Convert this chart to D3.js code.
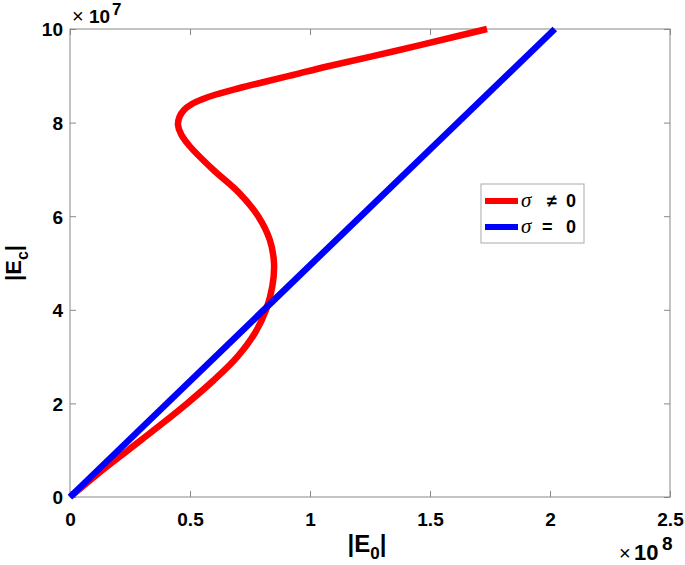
<!DOCTYPE html>
<html>
<head>
<meta charset="utf-8">
<script src="https://cdn.jsdelivr.net/npm/d3@7"></script>
<style>
  html, body { margin: 0; padding: 0; background: #fff; }
  svg { display: block; }
  text { font-family: "Liberation Sans", Arial, Helvetica, sans-serif; font-weight: bold; fill: #000; }
</style>
</head>
<body>
<svg id="chart" width="685" height="565"></svg>
<script>
// ---- data (E0 in units of 1e8, Ec in units of 1e7) ----
const xTicks = [0, 0.5, 1, 1.5, 2, 2.5];
const yTicks = [0, 2, 4, 6, 8, 10];
const xTickLabels = ["0", "0.5", "1", "1.5", "2", "2.5"];
const yTickLabels = ["0", "2", "4", "6", "8", "10"];

// sigma != 0 (red curve)
const redE0 = [0, 0.117, 0.242, 0.367, 0.488, 0.600, 0.698, 0.770, 0.817, 0.843, 0.850, 0.832, 0.784, 0.704, 0.595, 0.498, 0.463,
               0.450, 0.456, 0.475, 0.508, 0.554, 0.608, 0.700, 0.800, 0.929, 1.071, 1.346, 1.625, 1.7375];
const redEc = [0, 0.5, 1.0, 1.5, 2.0, 2.5, 3.0, 3.5, 4.0, 4.5, 5.0, 5.5, 6.0, 6.5, 7.0, 7.5, 7.75,
               7.949, 8.120, 8.269, 8.397, 8.504, 8.600, 8.729, 8.857, 9.017, 9.199, 9.519, 9.861, 10.0];

// sigma = 0 (blue line)
const blueE0 = [0, 2.02];
const blueEc = [0, 10];

const legendLabels = [
  { sym: "\u03C3", op: "\u2260", opX: 547, num: "0", color: "#ff0000" },
  { sym: "\u03C3", op: "=", opX: 542, num: "0", color: "#0000ff" }
];

// ---- layout ----
const svg = d3.select("#chart");
const L = 70, R = 670, T = 29, B = 497;
const x = d3.scaleLinear().domain([0, 2.5]).range([L, R]);
const y = d3.scaleLinear().domain([0, 10]).range([B, T]);
const axisColor = "#888";
const tickLen = 6;

// box
svg.append("rect").attr("x", L).attr("y", T).attr("width", R - L).attr("height", B - T)
  .attr("fill", "none").attr("stroke", axisColor).attr("stroke-width", 1);

// axes with inside ticks
const xAxisB = d3.axisBottom(x).tickValues(xTicks).tickSize(-tickLen).tickFormat((d, i) => xTickLabels[i]);
const gxb = svg.append("g").attr("transform", `translate(0,${B})`).call(xAxisB);
const xAxisT = d3.axisTop(x).tickValues(xTicks).tickSize(-tickLen).tickFormat("");
const gxt = svg.append("g").attr("transform", `translate(0,${T})`).call(xAxisT);
const yAxisL = d3.axisLeft(y).tickValues(yTicks).tickSize(-tickLen).tickFormat((d, i) => yTickLabels[i]);
const gyl = svg.append("g").attr("transform", `translate(${L},0)`).call(yAxisL);
const yAxisR = d3.axisRight(y).tickValues(yTicks).tickSize(-tickLen).tickFormat("");
const gyr = svg.append("g").attr("transform", `translate(${R},0)`).call(yAxisR);

[gxb, gxt, gyl, gyr].forEach(g => {
  g.select(".domain").remove();
  g.selectAll(".tick line").attr("stroke", axisColor);
  g.selectAll(".tick text").style("font-size", "19px").style("font-weight", "bold")
    .style("font-family", '"Liberation Sans", Arial, sans-serif').attr("fill", "#000");
});
gxb.selectAll(".tick text").attr("dy", null).attr("y", 29);
gyl.selectAll(".tick text").attr("dy", "0.36em").attr("x", -7);

// curves
const redPts = redE0.map((v, i) => [v, redEc[i]]);
const bluePts = blueE0.map((v, i) => [v, blueEc[i]]);
const line = d3.line().x(d => x(d[0])).y(d => y(d[1])).curve(d3.curveCatmullRom.alpha(0.5));

svg.append("path").datum(redPts).attr("d", line)
  .attr("fill", "none").attr("stroke", "#ff0000").attr("stroke-width", 6.5)
  .attr("stroke-linejoin", "round");
svg.append("path").datum(bluePts).attr("d", d3.line().x(d => x(d[0])).y(d => y(d[1])))
  .attr("fill", "none").attr("stroke", "#0000ff").attr("stroke-width", 6.5);

// exponent labels
function expLabel(xTimes, xTen, xExp, base, expBase, size, expSize, expText) {
  svg.append("text").attr("x", xTimes).attr("y", base).style("font-size", "20px")
    .style("font-weight", "normal").text("\u00D7");
  svg.append("text").attr("x", xTen).attr("y", base).style("font-size", size + "px").text("10");
  svg.append("text").attr("x", xExp).attr("y", expBase).style("font-size", expSize + "px").text(expText);
}
expLabel(72, 89, 112, 23, 15, 19, 17, "7");
expLabel(619, 634, 662, 560, 550, 22, 19, "8");

// axis labels
const xl = svg.append("text").attr("x", (L + R) / 2 - 3).attr("y", 552)
  .attr("text-anchor", "middle").style("font-size", "24px");
xl.append("tspan").text("|E");
xl.append("tspan").text("0").attr("dy", 7).style("font-size", "17px");
xl.append("tspan").text("|").attr("dy", -7);

const yl = svg.append("text").attr("transform", `translate(21,${(T + B) / 2}) rotate(-90)`)
  .attr("text-anchor", "middle").style("font-size", "22px");
yl.append("tspan").text("|E");
yl.append("tspan").text("c").attr("dy", 7).style("font-size", "16px");
yl.append("tspan").text("|").attr("dy", -7);

// legend
const lg = svg.append("g");
lg.append("rect").attr("x", 481).attr("y", 184).attr("width", 103).attr("height", 59)
  .attr("fill", "#fff").attr("stroke", "#aaa").attr("stroke-width", 1);
legendLabels.forEach((d, i) => {
  const yy = 201 + i * 26;
  lg.append("line").attr("x1", 485).attr("x2", 518).attr("y1", yy).attr("y2", yy)
    .attr("stroke", d.color).attr("stroke-width", 6);
  lg.append("text").attr("x", 521).attr("y", yy + 6).text(d.sym)
    .style("font-family", '"Liberation Serif", "Times New Roman", serif')
    .style("font-style", "italic").style("font-weight", "normal").style("font-size", "21px");
  lg.append("text").attr("x", d.opX).attr("y", yy + 6).style("font-size", "18px").text(d.op);
  lg.append("text").attr("x", 566).attr("y", yy + 6).style("font-size", "18px").text(d.num);
});
</script>
</body>
</html>
